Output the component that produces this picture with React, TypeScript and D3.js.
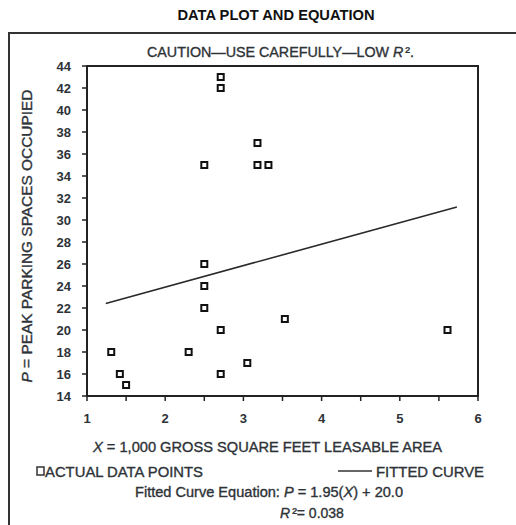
import * as d3 from 'd3'

// Observed points: X = 1,000 GSF leasable area, P = peak parking spaces occupied
const areaX = [1.31, 1.42, 1.5, 2.3, 2.5, 2.5, 2.5, 2.5, 2.71, 2.71, 2.71, 2.71, 3.05, 3.18, 3.18, 3.32, 3.53, 5.61]
const parkedP = [18, 16, 15, 18, 35, 26, 24, 22, 43, 42, 20, 16, 17, 37, 35, 35, 21, 20]

// Fitted curve P = 1.95(X) + 20.0, drawn over this X span
const fitSlope = 1.95
const fitIntercept = 20.0
const fitSpan = [1.24, 5.73]

const xMajorTicks = [1, 2, 3, 4, 5, 6]
const xMinorTicks = [1.5, 2.5, 3.5, 4.5, 5.5]
const yTicks = [14, 16, 18, 20, 22, 24, 26, 28, 30, 32, 34, 36, 38, 40, 42, 44]

const W = 516
const H = 525
const FONT = '"Liberation Sans", Arial, Helvetica, sans-serif'
const INK = '#2e3338'

// scanned-print look: regular weight, slightly thickened
const heavy = { fill: INK, stroke: INK, strokeWidth: 0.35 }

export default function App() {
  const x = d3.scaleLinear().domain([1, 6]).range([87, 478])
  const y = d3.scaleLinear().domain([14, 44]).range([396, 66])

  const points = areaX.map((v, i) => ({ x: v, p: parkedP[i] }))
  const fit = fitSpan.map(v => [x(v), y(fitSlope * v + fitIntercept)] as [number, number])
  const line = d3.line()

  const SQ = 6

  return (
    <svg
      width={W}
      height={H}
      style={{ position: 'absolute', left: 0, top: 0, background: '#fff', fontFamily: FONT }}
    >
      <text x={276} y={20} textAnchor="middle" fontSize={14.5} fontWeight="bold" fill="#111"
        textLength={197} lengthAdjust="spacingAndGlyphs">
        DATA PLOT AND EQUATION
      </text>

      {/* outer frame */}
      <path d={`M9,${H} V33 H${W}`} fill="none" stroke="#333" strokeWidth={2} />

      <text x={147} y={57} fontSize={14.3} {...heavy}>
        CAUTION—USE CAREFULLY—LOW <tspan fontStyle="italic">R</tspan><tspan dx={2}>².</tspan>
      </text>

      {/* plot box */}
      <rect x={x(1)} y={y(44)} width={x(6) - x(1)} height={y(14) - y(44)} fill="none" stroke="#222" strokeWidth={2} />

      {/* y ticks */}
      {yTicks.map(t => (
        <g key={t}>
          <line x1={x(1) - 5} x2={x(1) + 1} y1={y(t)} y2={y(t)} stroke="#222" strokeWidth={1.5} />
          <text x={x(1) - 16} y={y(t)} dy="0.36em" textAnchor="end" fontSize={13} fontWeight="bold" fill={INK}>
            {t}
          </text>
        </g>
      ))}

      {/* x ticks */}
      {xMajorTicks.map(t => (
        <g key={t}>
          <line x1={x(t)} x2={x(t)} y1={y(14) - 1} y2={y(14) + 5} stroke="#222" strokeWidth={1.5} />
          <text x={x(t)} y={y(14) + 27} textAnchor="middle" fontSize={13} fontWeight="bold" fill={INK}>
            {t}
          </text>
        </g>
      ))}
      {xMinorTicks.map(t => (
        <line key={t} x1={x(t)} x2={x(t)} y1={y(14) - 1} y2={y(14) + 5} stroke="#222" strokeWidth={1.5} />
      ))}

      {/* fitted line */}
      <path d={line(fit) ?? ''} fill="none" stroke="#2a2a2a" strokeWidth={1.6} />

      {/* data points */}
      {points.map((d, i) => (
        <rect
          key={i}
          x={x(d.x) - SQ / 2}
          y={y(d.p) - SQ / 2}
          width={SQ}
          height={SQ}
          fill="#fff"
          stroke="#111"
          strokeWidth={2}
        />
      ))}

      {/* y label */}
      <text
        transform={`translate(32,236) rotate(-90)`}
        textAnchor="middle"
        fontSize={14.5}
        {...heavy}
        textLength={293}
        lengthAdjust="spacingAndGlyphs"
      >
        <tspan fontStyle="italic">P</tspan> = PEAK PARKING SPACES OCCUPIED
      </text>

      {/* x label */}
      <text x={93} y={452} fontSize={14.5} {...heavy} textLength={349} lengthAdjust="spacingAndGlyphs">
        <tspan fontStyle="italic">X</tspan> = 1,000 GROSS SQUARE FEET LEASABLE AREA
      </text>

      {/* legend */}
      <rect x={37} y={467} width={7} height={8} fill="#fff" stroke="#333" strokeWidth={1.5} />
      <text x={45} y={477} fontSize={14.5} {...heavy} textLength={158} lengthAdjust="spacingAndGlyphs">
        ACTUAL DATA POINTS
      </text>
      <line x1={338} x2={372} y1={471} y2={471} stroke="#333" strokeWidth={1.5} />
      <text x={376} y={477} fontSize={14.5} {...heavy} textLength={108} lengthAdjust="spacingAndGlyphs">
        FITTED  CURVE
      </text>

      <text x={135} y={497} fontSize={14} {...heavy} textLength={268} lengthAdjust="spacingAndGlyphs">
        Fitted Curve Equation: <tspan fontStyle="italic">P</tspan> = 1.95(<tspan fontStyle="italic">X</tspan>) + 20.0
      </text>
      <text x={280} y={518} fontSize={14} {...heavy}>
        <tspan fontStyle="italic">R</tspan><tspan dx={2}>²= 0.038</tspan>
      </text>
    </svg>
  )
}
